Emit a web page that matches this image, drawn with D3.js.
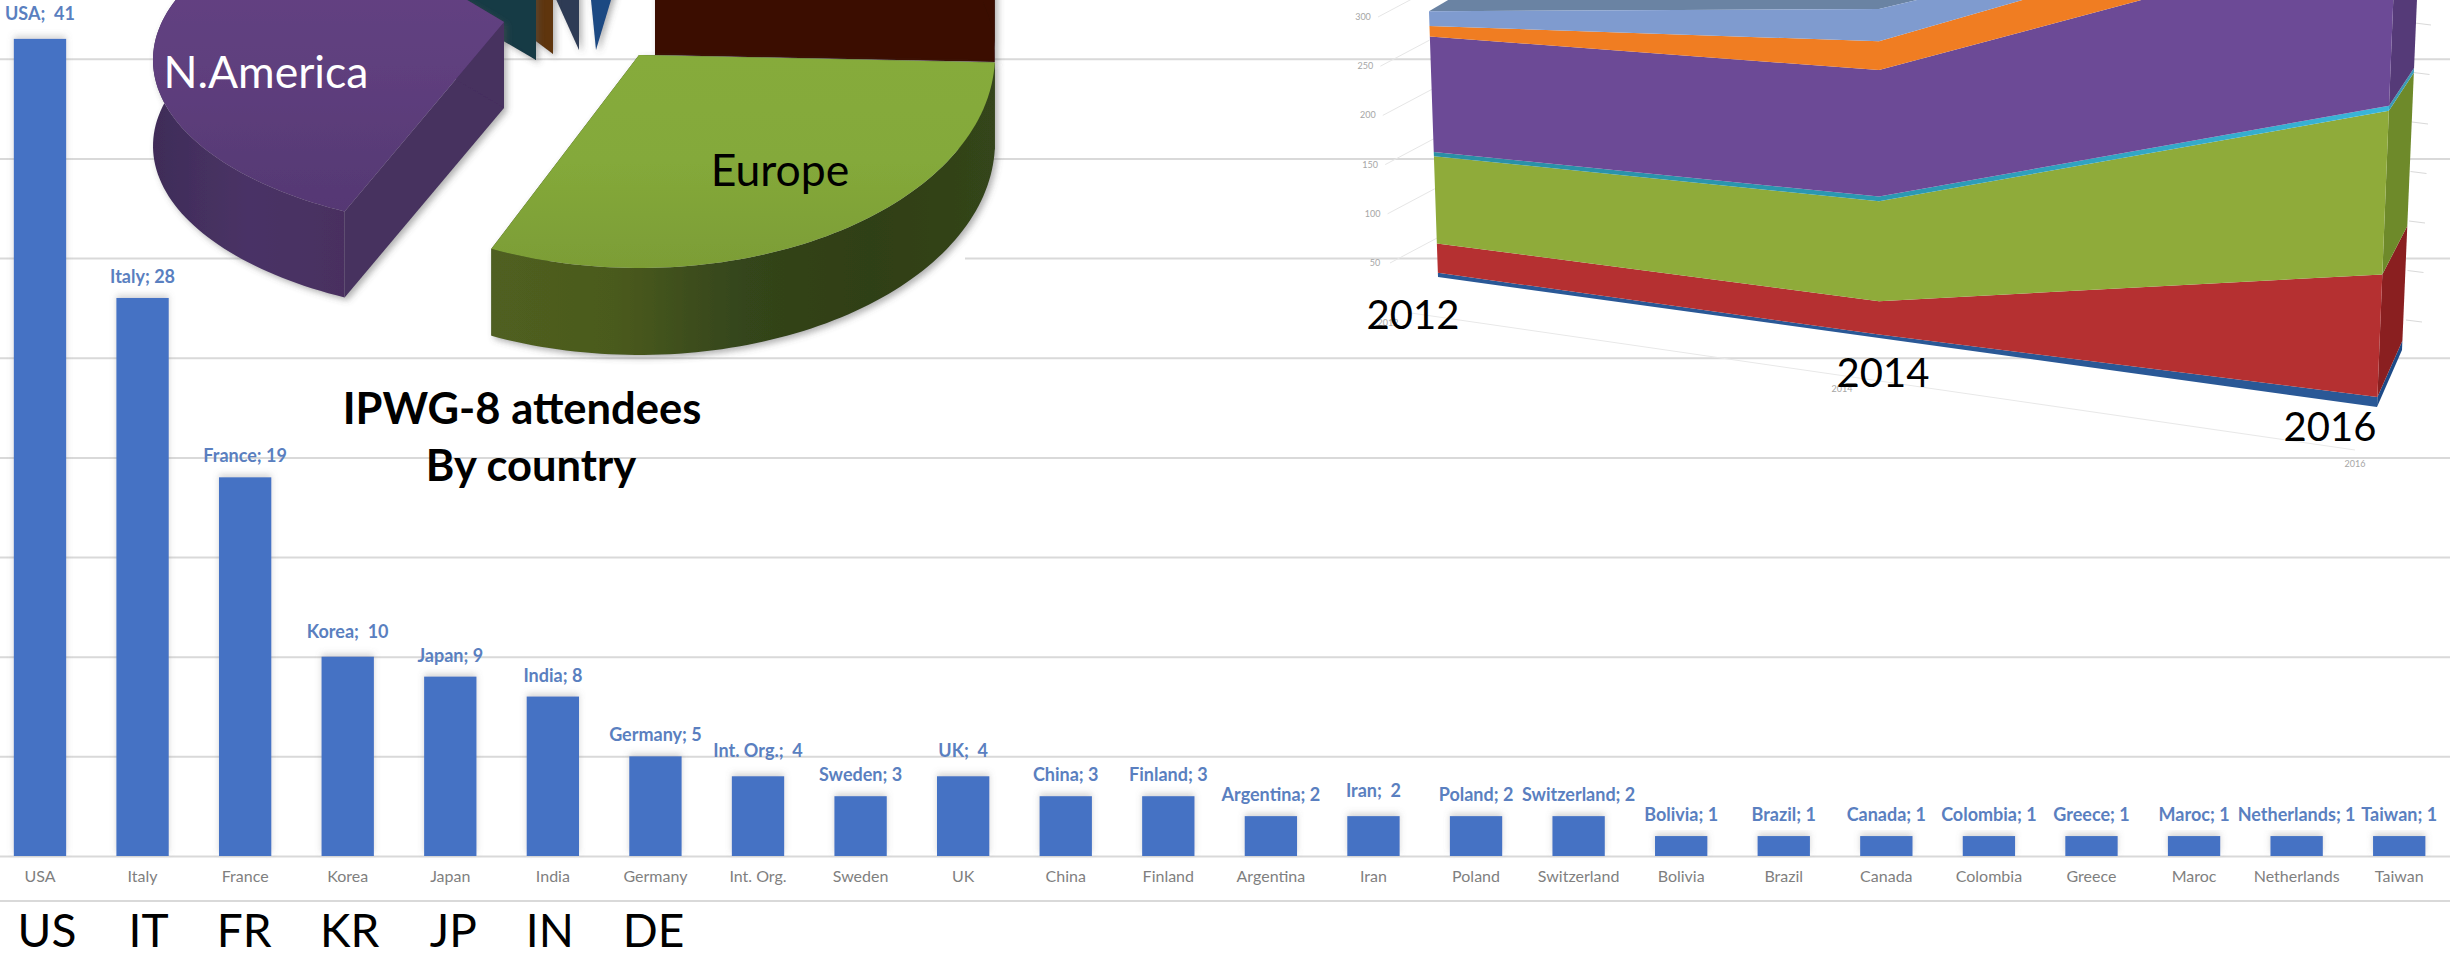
<!DOCTYPE html>
<html><head><meta charset="utf-8">
<script src="https://d3js.org/d3.v7.min.js"></script>
<style>html,body{margin:0;padding:0;background:#fff;overflow:hidden}svg{display:block}text{font-family:Lato,"Open Sans",sans-serif}</style>
</head><body><svg id="c" width="2456" height="953"></svg>
<script>
// ---------- bar chart data ----------
const countries = ["USA","Italy","France","Korea","Japan","India","Germany","Int. Org.","Sweden","UK","China","Finland","Argentina","Iran","Poland","Switzerland","Bolivia","Brazil","Canada","Colombia","Greece","Maroc","Netherlands","Taiwan"];
const attendees = [41,28,19,10,9,8,5,4,3,4,3,3,2,2,2,2,1,1,1,1,1,1,1,1];
const dataLabels = ["USA;  41","Italy; 28","France; 19","Korea;  10","Japan; 9","India; 8","Germany; 5","Int. Org.;  4","Sweden; 3","UK;  4","China; 3","Finland; 3","Argentina; 2","Iran;  2","Poland; 2","Switzerland; 2","Bolivia; 1","Brazil; 1","Canada; 1","Colombia; 1","Greece; 1","Maroc; 1","Netherlands; 1","Taiwan; 1"];
const countryCodes = ["US","IT","FR","KR","JP","IN","DE"];
// ---------- pie data (shares, in degrees of sweep) ----------
const regions = ["Europe","N.America","S.America","Africa","Middle East","Int. Org.","Asia"];
const regionShares = [115,122,6,16,7,8,86];
const regionLabels = ["Europe","N.America"];
const titleLines = ["IPWG-8 attendees","By country"];
// ---------- stacked area data ----------
const years = [2012,2014,2016];
const areaSeries = ["s1","s2","s3","s4","s5","s6","s7"];
const s1 = [4,3,8];
const s2 = [28,29,98];
const s3 = [83,87,131];
const s4 = [4,4,4];
const s5 = [110,110,139];
const s6 = [10,25,32];
const s7 = [14,28,6];
const valueTicks = [50,100,150,200,250,300];

const svg = d3.select("#c");
const defs = svg.append("defs");
const sh = defs.append("filter").attr("id","barGlow").attr("x","-30%").attr("y","-30%").attr("width","160%").attr("height","140%");
sh.append("feDropShadow").attr("dx",0).attr("dy",-3).attr("stdDeviation",3).attr("flood-color","#777").attr("flood-opacity",.3);
const ps = defs.append("filter").attr("id","pieShadow").attr("x","-20%").attr("y","-20%").attr("width","140%").attr("height","140%");
ps.append("feDropShadow").attr("dx",3).attr("dy",3).attr("stdDeviation",3).attr("flood-color","#555").attr("flood-opacity",.45);
function grad(id,stops,x2=1,y2=0){
  const g=defs.append("linearGradient").attr("id",id).attr("x1",0).attr("y1",0).attr("x2",x2).attr("y2",y2);
  stops.forEach((c,i)=>g.append("stop").attr("offset",i/(stops.length-1)).attr("stop-color",c));
}
grad("euTop",["#86ab3a","#84a93a","#7c9d36"],0,1);
grad("euWall",["#505f20","#4a5a1e","#34451a","#2f3f16","#34451a"]);
grad("naTop",["#674285","#5f3f7e","#553873"],0,1);
grad("naWall",["#3f2c58","#4a3366","#4a2f60"]);
grad("tealBand",["#2a8fa5","#2b99b3","#3ab6da"]);

// ---------- bar chart ----------
const x = d3.scaleBand().domain(countries).range([-11.3,2450.5]).paddingInner(.49).paddingOuter(.245);
const y = d3.scaleLinear().domain([0,45]).range([856,856-45*19.93]);
const grid = svg.append("g").attr("class","grid")
  .call(d3.axisRight(y).tickValues(d3.range(0,45,5)).tickSize(2450).tickFormat(""));
grid.select(".domain").remove();
grid.selectAll("line").attr("stroke","#d9d9d9").attr("stroke-width",2);

const bottomAxis = svg.append("g").attr("transform","translate(0,900)");
bottomAxis.append("rect").attr("width",2450).attr("height",2).attr("fill","#d9d9d9");

// white backing of the pasted pie picture
svg.append("rect").attr("x",340).attr("y",72).attr("width",625).attr("height",270).attr("fill","#fff");

const xAxis = svg.append("g").attr("transform","translate(0,856)")
  .call(d3.axisBottom(x).tickSize(0).tickPadding(15));
xAxis.select(".domain").remove();
xAxis.selectAll("text").attr("font-size",16).attr("fill","#7f7f7f").style("font-family","Lato");

svg.append("g").selectAll("rect").data(countries).join("rect")
  .attr("x",d=>x(d)).attr("width",x.bandwidth())
  .attr("y",(d,i)=>y(attendees[i])).attr("height",(d,i)=>y(0)-y(attendees[i]))
  .attr("fill","#4472c4").attr("filter","url(#barGlow)");

svg.append("g").selectAll("text").data(countries).join("text")
  .attr("x",d=>x(d)+x.bandwidth()/2)
  .attr("y",(d,i)=>y(attendees[i])-(dataLabels[i].includes(";  ")?19:15))
  .attr("text-anchor","middle").attr("font-size",18).attr("font-weight",700)
  .attr("fill","#5a7fc0").style("white-space","pre")
  .text((d,i)=>dataLabels[i]);

const codeNudge = [7,6,-1,2,3,-3,-2];
svg.append("g").selectAll("text").data(countryCodes).join("text")
  .attr("x",(d,i)=>x(countries[i])+x.bandwidth()/2+codeNudge[i]).attr("y",947)
  .attr("text-anchor","middle").attr("font-size",46).attr("fill","#000").text(d=>d);

// ---------- exploded 3D pie ----------
const pieGeom = [
  {ax:639,ay:55,ey:0,rx:356,ry:213,t:87,trim:2.5,top:"url(#euTop)",wall:"url(#euWall)",side:"#33451a"},
  {ax:504,ay:22,ey:38,rx:351,ry:170,t:86,trim:0,top:"url(#naTop)",wall:"url(#naWall)",side:"#46305e"},
  {ax:536,ay:-26,ey:0,rx:300,ry:105,t:86,trim:0,top:"#1a4a58",wall:"#143a45",side:"#143a45"},
  {ax:553,ay:-32,ey:0,rx:300,ry:105,t:86,trim:0,top:"#7a4a18",wall:"#5e3610",side:"#5e3610"},
  {ax:579,ay:-36,ey:0,rx:300,ry:105,t:86,trim:0,top:"#3b4a6a",wall:"#2e3b55",side:"#2e3b55"},
  {ax:596,ay:-36,ey:0,rx:300,ry:105,t:86,trim:0,top:"#25599a",wall:"#1c4a82",side:"#1c4a82"},
  {ax:655,ay:-31,ey:0,rx:340,ry:200,t:86,trim:0,top:"#5a1a0a",wall:"#3a1006",side:"#3a1006"}
];
const pieStartDeg = 92;
const slices = d3.pie().sort(null).startAngle(pieStartDeg*Math.PI/180).endAngle((pieStartDeg+360)*Math.PI/180)(regionShares);
const arcSteps = 80;
function rim(g,a){return [g.ax+g.rx*Math.sin(a), g.ay+g.ey-g.ry*Math.cos(a)];}
const band = d3.area().x(d=>d[0]).y0(d=>d[1]).y1(d=>d[2]);
function wallBand(pts,t){return band(pts.map(p=>[p[0],p[1]+t,p[1]]));}
const line = d3.line();
const pieG = svg.append("g");
// far slices first, the two front slices last
[6,5,4,3,2,1,0].forEach(i=>{
  const s=slices[i], g=pieGeom[i];
  const endA=s.endAngle-g.trim*Math.PI/180;
  const angs=d3.range(arcSteps+1).map(k=>s.startAngle+(endA-s.startAngle)*k/arcSteps);
  const rimPts=angs.map(a=>rim(g,a));
  const apex=[g.ax,g.ay];
  const sl=pieG.append("g").attr("filter","url(#pieShadow)");
  const e=rimPts[arcSteps];
  sl.append("path").attr("d",line([apex,rimPts[0],[rimPts[0][0],rimPts[0][1]+g.t],[apex[0],apex[1]+g.t]])+"Z").attr("fill",g.side);
  sl.append("path").attr("d",line([apex,e,[e[0],e[1]+g.t],[apex[0],apex[1]+g.t]])+"Z").attr("fill",g.side);
  sl.append("path").attr("d",wallBand(rimPts,g.t)).attr("fill",g.wall);
  sl.append("path").attr("d",line([apex,...rimPts])+"Z").attr("fill",g.top);
});
svg.append("text").attr("x",266).attr("y",88).attr("text-anchor","middle").attr("font-size",44.5).attr("fill","#fff").text(regionLabels[1]);
svg.append("text").attr("x",780).attr("y",186).attr("text-anchor","middle").attr("font-size",44.5).attr("fill","#000").text(regionLabels[0]);
svg.append("text").attr("x",522).attr("y",424).attr("text-anchor","middle").attr("font-size",43.5).attr("font-weight",700).attr("fill","#000").text(titleLines[0]);
svg.append("text").attr("x",531).attr("y",481).attr("text-anchor","middle").attr("font-size",43.5).attr("font-weight",700).attr("fill","#000").text(titleLines[1]);

// ---------- 3D stacked area ----------
const xYear = d3.scaleLinear().domain(years).range([1438,1879,2377]);
const baseY = d3.scaleLinear().domain(years).range([277,338,407]);
const kY = d3.scaleLinear().domain(years).range([1.05,1.15,1.25]);
const tilt = d3.scaleLinear().domain(years).range([-.034,0,.04]);
const table = years.map((yr,i)=>({year:yr,s1:s1[i],s2:s2[i],s3:s3[i],s4:s4[i],s5:s5[i],s6:s6[i],s7:s7[i]}));
const layers = d3.stack().keys(areaSeries)(table);
const px = (yr,v)=>xYear(yr)+tilt(yr)*v*kY(yr);
const py = (yr,v)=>baseY(yr)-v*kY(yr);
const areaColors = ["#2a5896","#b53031","#8fab3a","url(#tealBand)","#6c4a96","#f07d22","#7f9bcf"];
const sideColors = ["#1d4a87","#8a1f20","#6e8a2a","#3a9ab8","#553a78","#b85f18","#5f7aa8"];
const areaG = svg.append("g");

// faint wall and floor furniture
const tickY = d3.scaleLinear().domain([50,300]).range([263,17]);
const tickX = d3.scaleLinear().domain([50,300]).range([1375,1363]);
areaG.selectAll(".vt").data(valueTicks).join("text").attr("class","vt")
  .attr("x",tickX).attr("y",d=>tickY(d)+3).attr("text-anchor","middle").attr("font-size",9).attr("fill","#a6a6a6").text(d=>d);
areaG.selectAll(".vl").data(valueTicks).join("path").attr("class","vl")
  .attr("d",d=>line([[tickX(d)+15,tickY(d)],[tickX(d)+64,tickY(d)-26]])).attr("stroke","#e6e6e6").attr("fill","none");
const rightY = d3.scaleLinear().domain([0,300]).range([320,23]);
const rightX = d3.scaleLinear().domain([0,300]).range([2406,2415]);
areaG.selectAll(".rl").data([0,...valueTicks]).join("path").attr("class","rl")
  .attr("d",d=>line([[rightX(d),rightY(d)],[rightX(d)+16,rightY(d)+2]])).attr("stroke","#d9d9d9").attr("fill","none");
const floorX = d3.scaleLinear().domain([2012,2016]).range([1411,2355]);
const floorY = d3.scaleLinear().domain([2012,2016]).range([313,450]);
areaG.append("path").attr("d",line([[floorX(2012),floorY(2012)],[floorX(2016),floorY(2016)]])).attr("stroke","#e8e8e8").attr("fill","none");
areaG.selectAll(".fy").data(years).join("text").attr("class","fy")
  .attr("x",d=>d===2012?1388:d===2014?1842:2355).attr("y",d=>d===2012?326:d===2014?392:467)
  .attr("text-anchor","middle").attr("font-size",9).attr("fill","#a6a6a6").text(d=>d);

// right side wall at the last year
const lastYear = years[2];
const depth = (x0,y0)=>[x0+25, y0-57+.064*(baseY(lastYear)-y0)];
layers.forEach((L,i)=>{
  const d=L[2];
  const a=[px(lastYear,d[0]),py(lastYear,d[0])], b=[px(lastYear,d[1]),py(lastYear,d[1])];
  areaG.append("path").attr("d",line([a,b,depth(...b),depth(...a)])+"Z").attr("fill",sideColors[i]);
});
// top surface
const topL = layers[layers.length-1];
const tp = years.map((yr,i)=>[px(yr,topL[i][1]),py(yr,topL[i][1])]);
areaG.append("path").attr("d",line([tp[0],tp[1],tp[2],[tp[2][0],tp[2][1]-84],[tp[0][0]+338,tp[0][1]-200]])+"Z").attr("fill","#6a83a3");
// front stack
const stackArea = d3.area()
  .x0(d=>px(d.data.year,d[0])).y0(d=>py(d.data.year,d[0]))
  .x1(d=>px(d.data.year,d[1])).y1(d=>py(d.data.year,d[1]));
areaG.selectAll(".ly").data(layers).join("path").attr("class","ly").attr("d",stackArea).attr("fill",(d,i)=>areaColors[i]);

// big year labels
svg.append("g").selectAll("text").data(years).join("text")
  .attr("x",(d,i)=>[1413,1883,2330][i]).attr("y",(d,i)=>[329,387,441][i])
  .attr("text-anchor","middle").attr("font-size",40).attr("fill","#000").text(d=>d);
</script></body></html>
